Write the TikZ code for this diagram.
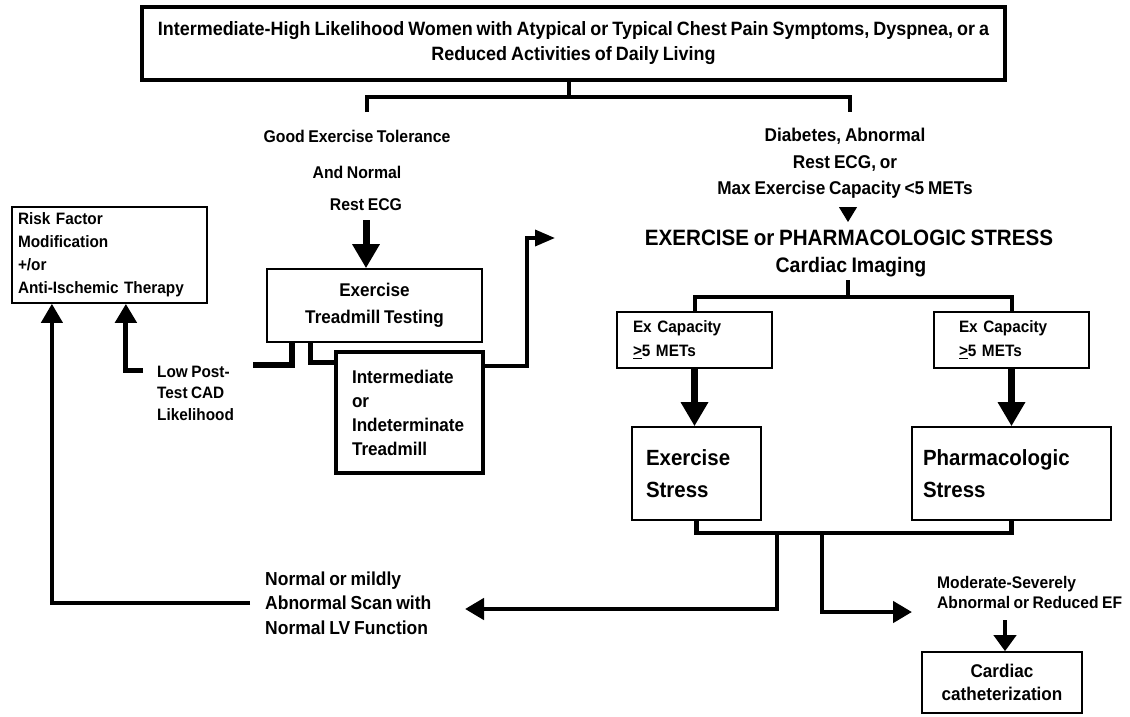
\documentclass[tikz,border=0pt]{standalone}
\usepackage{fontspec}
\setmainfont{Liberation Sans}[FakeStretch=0.93, WordSpace=0.8]
\usetikzlibrary{arrows.meta,calc}
\newcommand{\myfs}[2]{\fontsize{#1}{#2}\selectfont\bfseries}
\begin{document}
\begin{tikzpicture}[x=1pt,y=-1pt,
  box/.style={draw, line width=1.6pt, inner sep=0pt, align=center},
  lab/.style={inner sep=0pt, align=center},
  conn/.style={line width=4pt},
  bigarr/.style={line width=7pt, -{Triangle[width=26pt,length=24pt]}},
  arr/.style={line width=4pt, -{Triangle[width=21pt,length=19pt]}},
  smallarr/.style={line width=3.5pt, -{Triangle[width=16pt,length=20pt]}},
]
\useasboundingbox[fill=white] (0,0) rectangle (1130,717);

% boxes
\node[box, line width=3.5pt, minimum width=863pt, minimum height=73pt, font=\myfs{19.3}{25}] (top) at (573.5,43.5)
  {Intermediate-High Likelihood Women with Atypical or Typical Chest Pain Symptoms, Dyspnea, or a\\Reduced Activities of Daily Living};
\node[box, minimum width=195pt, minimum height=96pt, text width=183pt, align=left, font=\myfs{16.5}{23}] (risk) at (109.5,255)
  {Risk Factor\\Modification\\+/or\\Anti-Ischemic Therapy};
\node[box, minimum width=215pt, minimum height=73pt, font=\myfs{18.4}{27}] (ett) at (374.5,305.5)
  {Exercise\\Treadmill Testing};
\node[box, line width=4.5pt, minimum width=147pt, minimum height=121pt, text width=115pt, align=left, font=\myfs{18.4}{24}] (int) at (409.5,412.5)
  {Intermediate\\or\\Indeterminate\\Treadmill};
\node[box, minimum width=155pt, minimum height=56pt, text width=123pt, align=left, font=\myfs{16.5}{24}] (exl) at (694.5,340)
  {Ex Capacity\\\underline{>}5 METs};
\node[box, minimum width=155pt, minimum height=56pt, text width=105pt, align=left, font=\myfs{16.5}{24}] (exr) at (1011.5,340)
  {Ex Capacity\\\underline{>}5 METs};
\node[box, minimum width=129pt, minimum height=93pt, text width=101pt, align=left, font=\myfs{22}{32}] (exs) at (696.5,473.5)
  {Exercise\\Stress};
\node[box, minimum width=199pt, minimum height=93pt, text width=177pt, align=left, font=\myfs{22}{32}] (phs) at (1011.5,473.5)
  {Pharmacologic\\Stress};
\node[box, minimum width=160pt, minimum height=61pt, font=\myfs{18.4}{23}] (cath) at (1002,682.5)
  {Cardiac\\catheterization};

% free labels
\node[lab, font=\myfs{17}{20}] (g1) at (357,136) {Good Exercise Tolerance};
\node[lab, font=\myfs{17}{20}] (g2) at (357,172) {And Normal};
\node[lab, font=\myfs{17}{20}] (g3) at (366,205) {Rest ECG};
\node[lab, font=\myfs{18.5}{26.5}] (diab) at (845,163.5) {Diabetes, Abnormal\\Rest ECG, or\\Max Exercise Capacity <5 METs};
\node[lab, font=\myfs{22.2}{26}] (eps) at (849,238) {EXERCISE or PHARMACOLOGIC STRESS};
\node[lab, font=\myfs{21}{26}] (ci) at (851,267) {Cardiac Imaging};
\node[lab, anchor=west, align=left, font=\myfs{16.5}{21.5}] (lp) at (157,393) {Low Post-\\Test CAD\\Likelihood};
\node[lab, anchor=west, align=left, font=\myfs{18.8}{24.5}] (nm) at (265,603) {Normal or mildly\\Abnormal Scan with\\Normal LV Function};
\node[lab, anchor=west, align=left, font=\myfs{16.8}{20}] (ms) at (937,592) {Moderate-Severely\\Abnormal or Reduced EF};

% named free ends
\coordinate (tj) at (569,97);
\coordinate (tl) at (367,112);
\coordinate (tr) at (850,112);
\coordinate (a1) at (366,220);
\coordinate (lpe) at (253,365);
\coordinate (lpa) at (143,370);
\coordinate (irt) at (555,238);
\coordinate (irc) at (527,238);
\coordinate (tri0) at (848,207);
\coordinate (tri1) at (848,222);
\coordinate (cij) at (848,297);
\coordinate (cit) at (848,280);
\coordinate (nme) at (250,603);
\coordinate (bj) at (696.5,533);
\coordinate (lt) at (465,609);
\coordinate (rt) at (912,612);
\coordinate (ma) at (1005,620);

% connectors
\draw[conn] (top.south -| tj) -- (tj);
\draw[conn] (tl) -- (tl |- tj) -- (tr |- tj) -- (tr);
\draw[bigarr] (a1) -- (a1 |- ett.north);
\draw[line width=5.5pt] (lpe) -| ($(ett.south west)+(26,0)$);
\draw[line width=5pt] ($(ett.south west)+(44,0)$) |- ($(int.north west)+(0,13)$);
\draw[smallarr] ($(int.north east)+(0,16)$) -| (irc) -- (irt);
\draw[arr, line width=5pt] (lpa) -| ($(risk.south west)+(114.7,0)$);
\draw[arr] (nme) -| ($(risk.south west)+(40.7,0)$);
\draw[line width=1pt, -{Triangle[width=18pt,length=15pt]}] (tri0) -- (tri1);
\draw[conn] (cit) -- (cij);
\draw[conn] (exl.north) -- (exl.north |- cij) -- (exr.north |- cij) -- (exr.north);
\draw[bigarr] (exl.south) -- (exl.south |- exs.north);
\draw[bigarr] (exr.south) -- (exr.south |- phs.north);
\draw[line width=4.5pt] (exs.south) -- (bj) -| (phs.south);
\draw[arr, line width=4.5pt] (bj -| 777,0) |- (lt);
\draw[arr, line width=4.5pt] (bj -| 822,0) |- (rt);
\draw[arr, -{Triangle[width=22pt,length=16pt]}] (ma) -- (ma |- cath.north);
\end{tikzpicture}
\end{document}
